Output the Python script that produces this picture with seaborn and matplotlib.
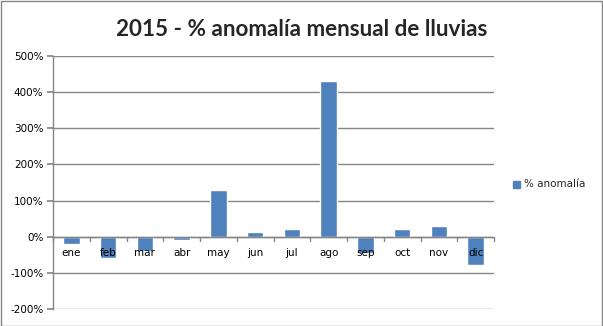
import matplotlib
matplotlib.use("Agg")
import matplotlib.pyplot as plt
import seaborn as sns
import pandas as pd
from matplotlib.ticker import FuncFormatter, MultipleLocator
from matplotlib.patches import Rectangle

meses = ["ene", "feb", "mar", "abr", "may", "jun", "jul", "ago", "sep", "oct", "nov", "dic"]
anomalia = [-21, -58, -40, -8, 130, 14, 22, 430, -45, 22, 30, -77]
serie = "% anomalía"
titulo = "2015 - % anomalía mensual de lluvias"

df = pd.DataFrame({"mes": meses, "anomalia": anomalia})

sns.set_theme(style="white")
plt.rcParams["font.family"] = ["DejaVu Sans"]

fig = plt.figure(figsize=(6.03, 3.26), dpi=100)
ax = fig.add_axes([53 / 603, 1 - 309 / 326, (494 - 53) / 603, (309 - 56) / 326])

sns.barplot(data=df, x="mes", y="anomalia", color="#4F81BD", width=0.45,
            saturation=1, ax=ax, zorder=3)
if ax.get_legend() is not None:
    ax.get_legend().remove()

ax.set_ylim(-200, 500)
ax.set_xlim(-0.5, len(meses) - 0.5)
ax.yaxis.set_major_locator(MultipleLocator(100))
ax.yaxis.set_major_formatter(FuncFormatter(lambda v, p: f"{int(v)}%"))
ax.grid(axis="y", color="#868686", linewidth=1, zorder=0)
ax.set_xlabel("")
ax.set_ylabel("")

for s in ["top", "right", "bottom"]:
    ax.spines[s].set_visible(False)
ax.spines["left"].set_color("#868686")
ax.spines["left"].set_linewidth(1)

ax.tick_params(axis="y", left=True, length=4, color="#868686", labelsize=7.5,
               pad=3, labelcolor="#000000")
ax.tick_params(axis="x", bottom=False, labelbottom=False)

# category labels below the zero line, with ticks between categories
for i, m in enumerate(meses):
    ax.text(i, -46, m, ha="center", va="center", fontsize=7.5, color="#000000",
            zorder=5)
for i in range(len(meses) + 1):
    ax.plot([i - 0.5, i - 0.5], [0, -11], color="#868686", linewidth=1,
            zorder=4, clip_on=False)
ax.axhline(0, color="#868686", linewidth=1, zorder=4)

fig.text(302 / 603, 1 - 30 / 326, titulo, ha="center", va="center",
         fontsize=16.2, fontweight="bold", family=["Lato", "DejaVu Sans"])

# legend entry
fig.patches.append(Rectangle((513 / 603, 1 - 188 / 326), 7 / 603, 7 / 326,
                             transform=fig.transFigure, color="#4F81BD"))
fig.text(524 / 603, 1 - 184 / 326, serie, ha="left", va="center", fontsize=7.5)

# outer border
fig.patches.append(Rectangle((0.5 / 603, 0.5 / 326), 1 - 1.5 / 603, 1 - 1.5 / 326,
                             transform=fig.transFigure, fill=False,
                             edgecolor="#868686", linewidth=1))

fig.savefig("out.png", dpi=100)
